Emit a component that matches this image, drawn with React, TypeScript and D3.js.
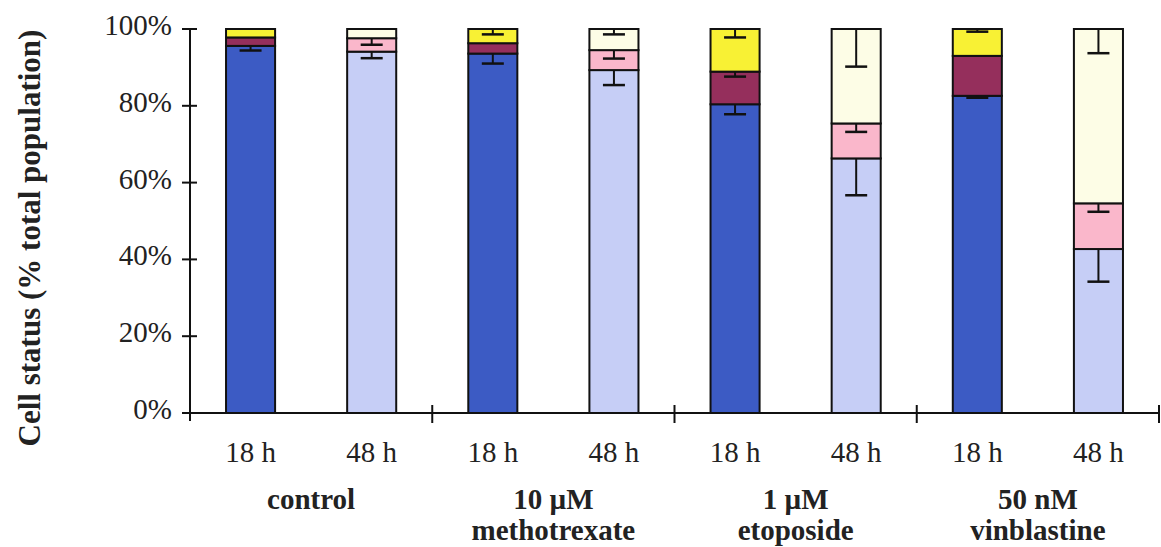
import React from "react";
import * as d3 from "d3";

// Stacked cell-status bars: viable (bottom), second class (middle), third class (top)
const groupNames: string[][] = [
  ["control"],
  ["10 \u00b5M", "methotrexate"],
  ["1 \u00b5M", "etoposide"],
  ["50 nM", "vinblastine"],
];
const timeLabels = ["18 h", "48 h"];

// one entry per bar: control 18h, control 48h, mtx 18h, mtx 48h, eto 18h, eto 48h, vin 18h, vin 48h
const viable = [95.6, 94.1, 93.6, 89.3, 80.4, 66.3, 82.6, 42.7];
const secondClass = [2.2, 3.5, 2.7, 5.2, 8.5, 9.1, 10.4, 11.9];
const thirdClass = viable.map((v, i) => +(100 - v - secondClass[i]).toFixed(1));

// lower (minus) error bars for each segment
const viableErr = [1.2, 1.7, 2.6, 3.9, 2.6, 9.6, 0.5, 8.5];
const secondErr = [0, 1.7, 0, 2.2, 1.3, 2.2, 0, 2.2];
const thirdErr = [0, 0, 1.4, 1.4, 2.2, 9.8, 0.7, 6.3];

const yTicks = [0, 20, 40, 60, 80, 100];

// colours per time point (18 h, 48 h)
const colors18 = ["#3c5bc4", "#952f5c", "#f8f134"];
const colors48 = ["#c6cef6", "#fab7cb", "#fdfde6"];

const W = 1161;
const H = 547;
const X0 = 190;
const X1 = 1159;
const Y0 = 413;
const Y1 = 29;

const SERIF = '"Liberation Serif", "Times New Roman", "DejaVu Serif", serif';
const txt: React.CSSProperties = { fontFamily: SERIF };

export default function App() {
  const barIds = d3.range(viable.length);
  const x = d3
    .scaleBand<number>()
    .domain(barIds)
    .range([X0, X1])
    .paddingInner(0.595)
    .paddingOuter(0.2975);
  const y = d3.scaleLinear().domain([0, 100]).range([Y0, Y1]);
  const step = x.step();
  const bw = x.bandwidth();

  const series = [viable, secondClass, thirdClass];
  const errs = [viableErr, secondErr, thirdErr];
  const stack = d3
    .stack<number>()
    .keys(["0", "1", "2"])
    .value((i, key) => series[+key][i]);
  const stacked = stack(barIds);

  const capW = 22;

  return (
    <svg
      width={W}
      height={H}
      style={{ position: "absolute", left: 0, top: 0, background: "#fff" }}
    >
      {/* bars */}
      {stacked.map((layer, si) => (
        <g key={si}>
          {layer.map((d, i) => (
            <rect
              key={i}
              x={x(i)!}
              y={y(d[1])}
              width={bw}
              height={y(d[0]) - y(d[1])}
              fill={i % 2 === 0 ? colors18[si] : colors48[si]}
              stroke="#111"
              strokeWidth={2}
            />
          ))}
        </g>
      ))}

      {/* minus error bars from the top of each segment */}
      {stacked.map((layer, si) => (
        <g key={"e" + si} stroke="#111" strokeWidth={2}>
          {layer.map((d, i) => {
            const e = errs[si][i];
            if (!e) return null;
            const cx = x(i)! + bw / 2;
            const yt = y(d[1]);
            const yb = y(d[1] - e);
            return (
              <g key={i}>
                <line x1={cx} x2={cx} y1={yt} y2={yb} />
                <line x1={cx - capW / 2} x2={cx + capW / 2} y1={yb} y2={yb} strokeWidth={2.5} />
              </g>
            );
          })}
        </g>
      ))}

      {/* y axis */}
      <g stroke="#111" strokeWidth={2}>
        <line x1={X0} x2={X0} y1={y(100)} y2={y(0) + 8} />
        {yTicks.map((t) => (
          <line key={t} x1={X0 - 8} x2={X0 + 7} y1={y(t)} y2={y(t)} />
        ))}
      </g>
      {yTicks.map((t) => (
        <text key={"t" + t} x={172} y={y(t) + 6} textAnchor="end" fontSize={29} fill="#222" style={txt}>
          {t}%
        </text>
      ))}

      {/* x axis with group dividers */}
      <g stroke="#111" strokeWidth={2}>
        <line x1={X0 - 8} x2={X1} y1={Y0} y2={Y0} />
        {d3.range(1, groupNames.length + 1).map((k) => {
          const gx = X0 + k * 2 * step;
          return <line key={k} x1={gx} x2={gx} y1={Y0 - 8} y2={Y0 + 10} />;
        })}
      </g>

      {/* time labels */}
      {barIds.map((i) => (
        <text
          key={"h" + i}
          x={x(i)! + bw / 2}
          y={462}
          textAnchor="middle"
          fontSize={29}
          fill="#222"
          style={txt}
        >
          {timeLabels[i % 2]}
        </text>
      ))}

      {/* group labels */}
      {groupNames.map((lines, k) => (
        <text
          key={"g" + k}
          x={X0 + (2 * k + 1) * step}
          y={509}
          textAnchor="middle"
          fontSize={29}
          fontWeight="bold"
          fill="#222"
          style={txt}
        >
          {lines.map((ln, j) => (
            <tspan key={j} x={X0 + (2 * k + 1) * step} dy={j === 0 ? 0 : 31}>
              {ln}
            </tspan>
          ))}
        </text>
      ))}

      {/* y axis title */}
      <text
        transform={`translate(40,${238}) rotate(-90)`}
        textAnchor="middle"
        fontSize={31}
        fontWeight="bold"
        fill="#222"
        style={txt}
      >
        Cell status (% total population)
      </text>
    </svg>
  );
}
